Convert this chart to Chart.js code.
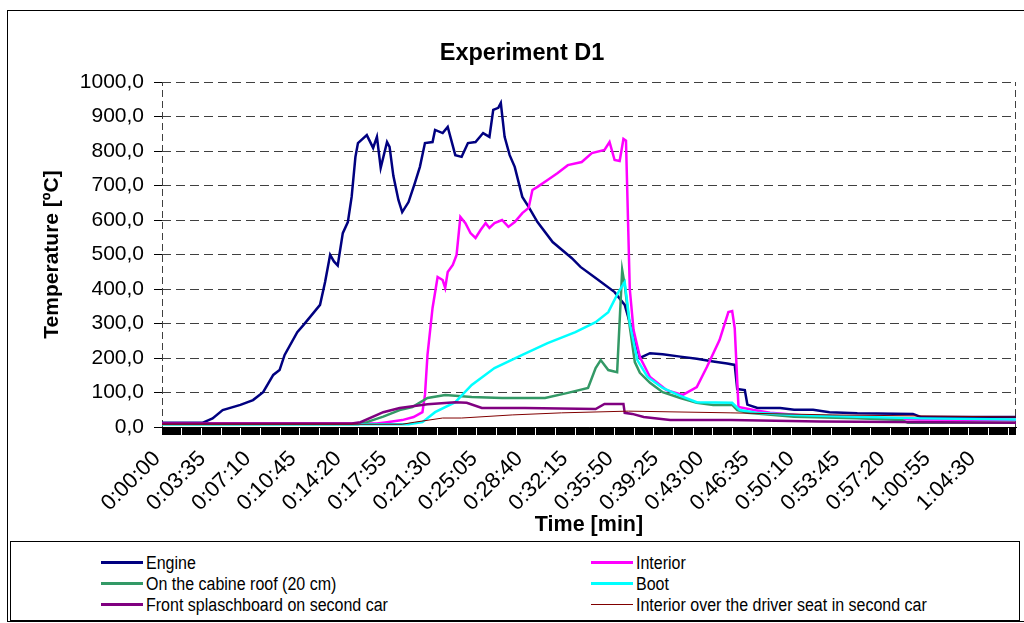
<!DOCTYPE html>
<html lang="en">
<head>
<meta charset="UTF-8">
<title>Experiment D1</title>
<script src="https://cdn.jsdelivr.net/npm/chart.js"></script>
<style>
  body { margin: 0; background: #fff; }
  #wrap { position: relative; width: 1024px; height: 623px; overflow: hidden; }
  #frame { position: absolute; left: 7px; top: 10px; width: 1030px; height: 612px; border: 1px solid #000; box-sizing: border-box; }
  #chartCanvas { position: absolute; left: 0; top: 0; }
  #legend {
    position: absolute; left: 10px; top: 541px; width: 1010px; height: 80px;
    border: 1px solid #000; box-sizing: border-box; background: #fff;
    display: grid; grid-template-columns: 490px 490px; grid-auto-rows: 21px;
    padding: 10px 0 0 90px;
    font-family: "Liberation Sans Narrow", "Arial Narrow", Arial, sans-serif; font-size: 16px; color: #000;
  }
  .item { display: flex; align-items: center; white-space: nowrap; }
  .swatch { width: 42px; margin-right: 3px; }
  .item span:last-child { display: inline-block; transform: scaleY(1.15); transform-origin: left center; }
</style>
</head>
<body>
<div id="wrap">
  <div id="frame"></div>
  <canvas id="chartCanvas" width="1024" height="540"></canvas>
  <div id="legend"></div>
</div>
<script>
// time in minutes, temperature in ºC
const engineT = [0, 3.2, 4.0, 4.8, 6.2, 7.2, 8.0, 8.8, 9.3, 9.7, 10.7, 11.2, 12.5, 12.9, 13.3, 13.6, 13.9, 14.3, 14.7, 15.0, 15.3, 15.5, 16.2, 16.7, 17.0, 17.3, 17.8, 18.0, 18.3, 18.7, 19.0, 19.5, 20.0, 20.4, 20.8, 21.4, 21.6, 22.2, 22.6, 23.2, 23.7, 24.2, 24.8, 25.4, 25.9, 26.2, 26.6, 26.8, 27.1, 27.5, 27.9, 28.5, 29.0, 29.7, 30.9, 32.4, 33.1, 34.3, 35.8, 36.6, 37.8, 38.6, 39.6, 41.0, 42.3, 43.6, 44.7, 45.3, 45.5, 46.1, 46.3, 47.1, 48.9, 50.0, 51.5, 52.8, 55.0, 59.4, 60.0, 67.6];
const engineV = [12, 12, 25, 49, 64, 78, 101, 151, 165, 209, 275, 296, 354, 420, 499, 480, 468, 562, 594, 667, 783, 823, 846, 809, 841, 751, 826, 812, 728, 658, 623, 652, 707, 754, 823, 826, 861, 852, 870, 788, 783, 823, 826, 852, 841, 919, 925, 939, 841, 788, 754, 667, 638, 594, 536, 490, 464, 432, 391, 354, 200, 214, 211, 204, 198, 190, 184, 180, 110, 107, 65, 55, 55, 50, 50, 43, 40, 38, 29, 29];

const interiorT = [0, 17.0, 17.8, 19.0, 19.9, 20.6, 20.8, 21.0, 21.4, 21.8, 22.2, 22.4, 22.6, 23.0, 23.3, 23.6, 24.0, 24.4, 24.8, 25.2, 25.6, 25.9, 26.3, 26.9, 27.4, 27.9, 28.5, 29.0, 29.3, 29.7, 30.5, 31.3, 32.1, 33.2, 34.0, 35.0, 35.4, 35.8, 36.2, 36.5, 36.7, 37.0, 37.3, 37.8, 38.6, 39.9, 41.2, 42.3, 43.1, 44.1, 44.8, 45.1, 45.3, 45.6, 46.8, 48.1, 52.0, 60.0, 67.6];
const interiorV = [10, 10, 14, 20, 29, 43, 93, 209, 345, 435, 426, 403, 449, 470, 499, 609, 591, 562, 548, 571, 591, 577, 591, 600, 580, 594, 620, 635, 687, 696, 716, 736, 759, 768, 794, 803, 826, 774, 771, 835, 830, 400, 281, 203, 145, 107, 93, 116, 174, 252, 333, 336, 287, 58, 49, 41, 30, 22, 20];

const roofT = [0, 15.5, 16.2, 17.5, 18.4, 18.8, 19.8, 21.0, 22.4, 24.5, 26.9, 30.3, 32.1, 33.7, 34.3, 34.7, 35.3, 36.0, 36.4, 36.6, 37.0, 37.4, 37.8, 38.6, 39.6, 41.0, 42.3, 43.6, 45.1, 45.5, 46.3, 50.0, 55.0, 58.5, 59.0, 67.6];
const roofV = [8, 8, 14, 30, 43, 49, 58, 84, 93, 87, 84, 84, 99, 113, 171, 194, 165, 159, 455, 412, 290, 188, 157, 128, 101, 84, 70, 64, 64, 49, 41, 30, 25, 20, 12, 12];

const bootT = [0, 19.5, 20.6, 21.6, 23.2, 24.5, 26.3, 28.5, 30.5, 32.7, 34.3, 35.3, 36.1, 36.6, 37.0, 37.6, 38.4, 39.6, 41.0, 42.3, 45.1, 45.7, 47.0, 50.0, 55.0, 60.0, 67.6];
const bootV = [8, 8, 14, 43, 72, 122, 171, 209, 243, 275, 304, 333, 391, 420, 301, 194, 145, 113, 90, 72, 70, 49, 41, 35, 30, 25, 22];

const splashT = [0, 15.0, 15.7, 17.5, 18.8, 21.0, 23.2, 24.1, 25.3, 28.7, 34.3, 35.0, 36.5, 36.6, 37.2, 38.1, 40.2, 45.0, 52.0, 67.6];
const splashV = [10, 10, 14, 43, 55, 66, 72, 70, 55, 55, 52, 67, 67, 41, 38, 29, 20, 20, 16, 12];

const seatT = [0, 19.0, 20.0, 22.2, 23.7, 27.7, 31.6, 36.9, 45.0, 53.0, 67.6];
const seatV = [8, 8, 14, 26, 26, 35, 41, 46, 41, 35, 29];

const seriesNames = ['Engine', 'Interior', 'On the cabine roof (20 cm)', 'Boot', 'Front splaschboard on second car', 'Interior over the driver seat in second car'];
const seriesColors = ['#000080', '#FF00FF', '#339966', '#00FFFF', '#800080', '#800000'];
const seriesWidths = [2.5, 2.5, 2.5, 2.5, 2.5, 1];
const seriesTimes = [engineT, interiorT, roofT, bootT, splashT, seatT];
const seriesValues = [engineV, interiorV, roofV, bootV, splashV, seatV];

const xMaxSec = 4053;      // end of the time axis
const labelStepSec = 215;  // one label every 0:03:35
const tickStepSec = 5;     // sampling interval, one tick mark each

function fmtTime(sec) {
    const h = Math.floor(sec / 3600);
    const m = Math.floor((sec % 3600) / 60);
    const s = sec % 60;
    return h + ':' + String(m).padStart(2, '0') + ':' + String(s).padStart(2, '0');
}

const datasets = seriesNames.map((name, i) => ({
    label: name,
    data: seriesTimes[i].map((t, j) => ({ x: t, y: seriesValues[i][j] })),
    borderColor: seriesColors[i],
    backgroundColor: seriesColors[i],
    borderWidth: seriesWidths[i],
    pointRadius: 0,
    tension: 0,
    order: seriesNames.length - i
}));

// dashed left / right edges of the plot area
const plotEdges = {
    id: 'plotEdges',
    beforeDatasetsDraw(chart) {
        const { ctx, chartArea: a } = chart;
        ctx.save();
        ctx.strokeStyle = '#404040';
        ctx.lineWidth = 1;
        ctx.setLineDash([7, 4]);
        ctx.beginPath();
        ctx.moveTo(a.left + 0.5, a.bottom);
        ctx.lineTo(a.left + 0.5, a.top);
        ctx.moveTo(a.right - 0.5, a.bottom);
        ctx.lineTo(a.right - 0.5, a.top);
        ctx.stroke();
        ctx.restore();
    }
};

const ctx = document.getElementById('chartCanvas').getContext('2d');
new Chart(ctx, {
    type: 'line',
    data: { datasets: datasets },
    options: {
        responsive: false,
        animation: false,
        layout: { padding: { left: 28, right: 8, top: 0, bottom: 0 } },
        plugins: {
            legend: { display: false },
            tooltip: { enabled: false },
            title: {
                display: true,
                text: 'Experiment D1',
                color: '#000',
                font: { family: 'Arial', size: 23.5, weight: 'bold' },
                padding: { top: 39, bottom: 14.8 }
            }
        },
        scales: {
            x: {
                type: 'linear',
                min: 0,
                max: xMaxSec / 60,
                afterBuildTicks: scale => {
                    const ticks = [];
                    for (let s = 0; s <= xMaxSec; s += tickStepSec) ticks.push({ value: s / 60 });
                    scale.ticks = ticks;
                },
                afterFit: scale => {
                    scale.height = 113;
                    scale.paddingRight = 0;
                },
                ticks: {
                    autoSkip: false,
                    minRotation: 45,
                    maxRotation: 45,
                    padding: 11,
                    labelOffset: -5,
                    color: '#000',
                    font: { family: 'Arial', size: 22 },
                    callback: v => {
                        const sec = Math.round(v * 60);
                        return sec % labelStepSec === 0 ? fmtTime(sec) : '';
                    }
                },
                grid: { drawOnChartArea: false, drawTicks: true, tickLength: 8, tickColor: '#000', color: '#000' },
                border: { display: true, color: '#000', width: 1 },
                title: {
                    display: true,
                    text: 'Time [min]',
                    color: '#000',
                    font: { family: 'Arial', size: 21.5, weight: 'bold' },
                    padding: { top: 0, bottom: 2 }
                }
            },
            y: {
                min: 0,
                max: 1000,
                afterFit: scale => { scale.width = 134; },
                ticks: {
                    stepSize: 100,
                    padding: 10,
                    color: '#000',
                    font: { family: 'Arial', size: 21 },
                    callback: v => v.toFixed(1).replace('.', ',')
                },
                grid: { color: '#404040', lineWidth: 1, drawTicks: true, tickLength: 8, tickColor: '#000' },
                border: { display: false, dash: [9, 5] },
                title: {
                    display: true,
                    text: 'Temperature [ºC]',
                    color: '#000',
                    font: { family: 'Arial', size: 21, weight: 'bold' },
                    padding: { top: 11.4, bottom: 0 }
                }
            }
        }
    },
    plugins: [plotEdges]
});

// legend in two columns, row by row like the original
const legend = document.getElementById('legend');
seriesNames.forEach((name, i) => {
    const item = document.createElement('div');
    item.className = 'item';
    const sw = document.createElement('span');
    sw.className = 'swatch';
    sw.style.height = (seriesWidths[i] > 1 ? 3 : 1) + 'px';
    sw.style.background = seriesColors[i];
    const txt = document.createElement('span');
    txt.textContent = name;
    item.appendChild(sw);
    item.appendChild(txt);
    legend.appendChild(item);
});
</script>
</body>
</html>
